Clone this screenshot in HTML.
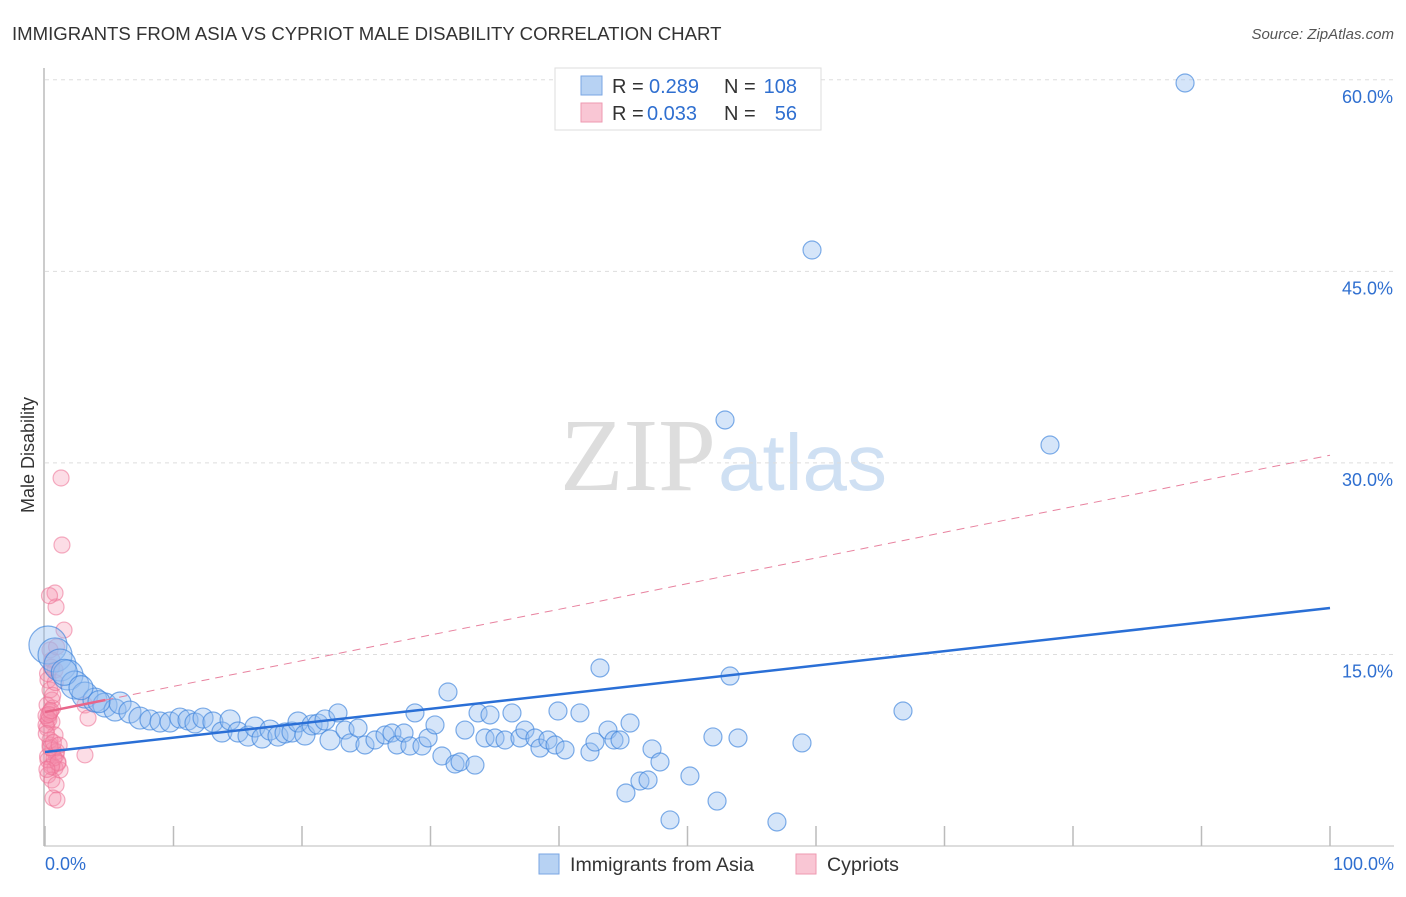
<!DOCTYPE html>
<html><head><meta charset="utf-8">
<style>
body{margin:0;background:#fff;font-family:"Liberation Sans",sans-serif;}
svg text{font-family:"Liberation Sans",sans-serif;}
</style></head>
<body>
<svg id="chart" width="1406" height="892" xmlns="http://www.w3.org/2000/svg">
<text x="12" y="40" font-size="18.6" fill="#333">IMMIGRANTS FROM ASIA VS CYPRIOT MALE DISABILITY CORRELATION CHART</text>
<text x="1394" y="39" font-size="15" fill="#555" font-style="italic" text-anchor="end">Source: ZipAtlas.com</text>
<text x="34" y="455" font-size="18" fill="#333" text-anchor="middle" transform="rotate(-90 34 455)">Male Disability</text>
<text x="716" y="490" font-size="104" fill="#ddd" text-anchor="end" style="font-family:'Liberation Serif',serif">ZIP</text>
<text x="718" y="490" font-size="80" fill="#cfe0f3">atlas</text>
<g id="grid"></g>
<g id="pts"></g>
<g id="lines"></g>
<g>
<rect x="555" y="68" width="266" height="62" fill="#fff" stroke="#ddd"/>
<rect x="581" y="76" width="21" height="19" fill="#b7d2f3" stroke="#7aa6e3"/>
<rect x="581" y="103" width="21" height="19" fill="#f9c6d4" stroke="#ee99b1"/>
<text x="612" y="93" font-size="20" fill="#333">R =</text>
<text x="649" y="93" font-size="20" fill="#2f6fd0">0.289</text>
<text x="724" y="93" font-size="20" fill="#333">N =</text>
<text x="797" y="93" font-size="20" fill="#2f6fd0" text-anchor="end">108</text>
<text x="612" y="120" font-size="20" fill="#333">R =</text>
<text x="647" y="120" font-size="20" fill="#2f6fd0">0.033</text>
<text x="724" y="120" font-size="20" fill="#333">N =</text>
<text x="797" y="120" font-size="20" fill="#2f6fd0" text-anchor="end">56</text>
</g>
<g>
<rect x="539" y="854" width="20" height="20" fill="#b7d2f3" stroke="#7aa6e3"/>
<text x="570" y="871" font-size="19.6" fill="#333">Immigrants from Asia</text>
<rect x="796" y="854" width="20" height="20" fill="#f9c6d4" stroke="#ee99b1"/>
<text x="827" y="871" font-size="19.6" fill="#333">Cypriots</text>
</g>
<text x="45" y="870" font-size="18" fill="#2f6fd0">0.0%</text>
<text x="1394" y="870" font-size="18" fill="#2f6fd0" text-anchor="end">100.0%</text>
</svg>
<script>
const yTicks=[15,30,45,60];
const yTickLabels=["15.0%","30.0%","45.0%","60.0%"];
const xTicks=[0,10,20,30,40,50,60,70,80,90,100];
const asiaX=[0.23,0.78,1.17,1.79,2.33,3.11,3.89,4.67,5.45,5.84,6.61,7.39,8.17,8.95,9.73,10.5,11.13,11.67,12.3,13.07,13.77,14.4,15.02,15.8,16.34,16.89,17.51,18.13,18.68,19.22,19.69,20.23,20.78,21.25,21.79,22.18,22.8,23.35,23.74,24.36,24.9,25.68,26.46,27,27.39,27.94,28.4,28.79,29.34,29.81,30.35,30.89,31.36,31.91,32.3,32.68,33.46,33.7,34.24,34.63,35.02,35.8,36.34,36.96,37.35,38.13,38.52,39.14,39.69,39.92,40.47,41.63,42.41,42.8,43.19,43.81,44.28,44.75,45.21,45.53,46.3,46.93,47.24,47.86,48.64,50.19,51.98,52.3,52.92,53.31,53.93,56.96,58.91,59.69,66.77,78.21,88.72,1.5,2.8,4.2];
const asiaY=[15.74,14.96,14.17,13.39,12.61,11.82,11.43,11.04,10.65,11.2,10.49,10.02,9.87,9.71,9.71,10.02,9.87,9.63,10.02,9.71,8.93,9.87,8.93,8.61,9.32,8.46,9.08,8.61,8.85,8.93,9.71,8.69,9.48,9.55,9.87,8.3,10.42,9.08,8.07,9.24,7.91,8.3,8.69,8.85,7.91,8.85,7.83,10.42,7.83,8.46,9.48,7.05,12.06,6.42,6.58,9.08,6.34,10.42,8.46,10.26,8.46,8.3,10.42,8.46,9.08,8.46,7.67,8.3,7.91,10.57,7.52,10.42,7.36,8.14,13.94,9.08,8.3,8.3,4.15,9.63,5.09,5.17,7.6,6.58,2.04,5.48,8.54,3.52,33.36,13.31,8.46,1.88,8.07,46.67,10.57,31.4,59.75,13.6,12.4,11.3];
const asiaR=[19,17,16,15,14,13,12,12,11,11,11,11,10,10,10,10,10,10,10,10,10,10,10,10,10,10,10,10,10,10,10,10,10,10,10,10,9,9,9,9,9,9,9,9,9,9,9,9,9,9,9,9,9,9,9,9,9,9,9,9,9,9,9,9,9,9,9,9,9,9,9,9,9,9,9,9,9,9,9,9,9,9,9,9,9,9,9,9,9,9,9,9,9,9,9,9,9,13,12,11];
const cypX=[1.25,1.32,0.78,0.86,1.48,0.39,0.54,0.78,0.23,0.39,0.54,0.16,0.39,0.23,0.54,0.16,0.78,0.39,0.62,0.86,0.23,1.01,0.54,0.78,1.17,0.23,0.54,0.86,0.62,0.93,3.11,3.35,3.11,0.39,0.08,0.08,0.6,0.3,0.9,0.2,0.5,0.7,1.0,0.4,0.1,0.3,0.6,0.8,0.2,0.5,0.9,0.35,0.65,0.15,1.1,0.45];
const cypY=[28.82,23.57,19.81,18.72,16.91,15.35,14.57,13.78,13.0,12.22,11.43,11.04,10.49,10.02,9.71,9.24,8.69,7.91,7.52,7.13,6.73,6.58,6.34,6.11,5.95,5.56,5.17,4.78,3.76,3.6,11.04,10.02,7.13,8.3,9.48,10.2,10.8,9.9,7.4,7.0,6.2,6.9,6.5,7.7,8.8,10.3,11.8,12.8,13.5,14.0,15.6,19.6,8.1,6.0,7.9,10.6];
const asiaTrend=[7.36,18.64];
const cypTrend=[10.49,30.6];
const NS="http://www.w3.org/2000/svg";
const X0=45,X1=1330,Y0=846,PPY=12.77;
const sx=v=>X0+(X1-X0)*v/100;
const sy=v=>Y0-v*PPY;
function mk(tag,attrs,parent){const e=document.createElementNS(NS,tag);for(const k in attrs)e.setAttribute(k,attrs[k]);parent.appendChild(e);return e;}
const grid=document.getElementById('grid'),pts=document.getElementById('pts'),lines=document.getElementById('lines');
let ax=mk('line',{x1:44,y1:68,x2:44,y2:846,stroke:'#bbb','stroke-width':1.5},grid);


let bx=mk('line',{x1:44,y1:846,x2:1394,y2:846,stroke:'#bbb','stroke-width':1},grid);


yTicks.forEach((t,i)=>{
 const g=mk('line',{x1:45,y1:sy(t),x2:1394,y2:sy(t),stroke:'#ddd','stroke-dasharray':'4,4'},grid);
 
 
 const tx=mk('text',{x:1393,y:sy(t)+23,'font-size':18,fill:'#2f6fd0','text-anchor':'end'},grid);
 tx.textContent=yTickLabels[i];
 
 
});
xTicks.forEach(t=>{
 const l=mk('line',{x1:sx(t),y1:826,x2:sx(t),y2:846,stroke:'#bbb','stroke-width':1.5},grid);
 
 
});
cypX.forEach((x,i)=>{
 const c=mk('circle',{cx:sx(x),cy:sy(cypY[i]),r:8,fill:'rgba(244,143,172,0.3)',stroke:'rgba(236,110,146,0.55)','stroke-width':1.2},pts);
 
 
});
asiaX.forEach((x,i)=>{
 const c=mk('circle',{cx:sx(x),cy:sy(asiaY[i]),r:asiaR[i],fill:'rgba(150,190,240,0.4)',stroke:'rgba(60,130,220,0.65)','stroke-width':1.2},pts);
 
 
});
const cypAt=x=>cypTrend[0]+(cypTrend[1]-cypTrend[0])*x/100;
let pd=mk('line',{x1:sx(4.7),y1:sy(cypAt(4.7)),x2:sx(100),y2:sy(cypAt(100)),stroke:'#e8829f','stroke-width':1,'stroke-dasharray':'8,6'},lines);


let ps=mk('line',{x1:sx(0),y1:sy(cypAt(0)),x2:sx(4.7),y2:sy(cypAt(4.7)),stroke:'#e8668a','stroke-width':2.5},lines);


let bl=mk('line',{x1:sx(0),y1:sy(asiaTrend[0]),x2:sx(100),y2:sy(asiaTrend[1]),stroke:'#2a6fd6','stroke-width':2.5},lines);


</script>
</body></html>
